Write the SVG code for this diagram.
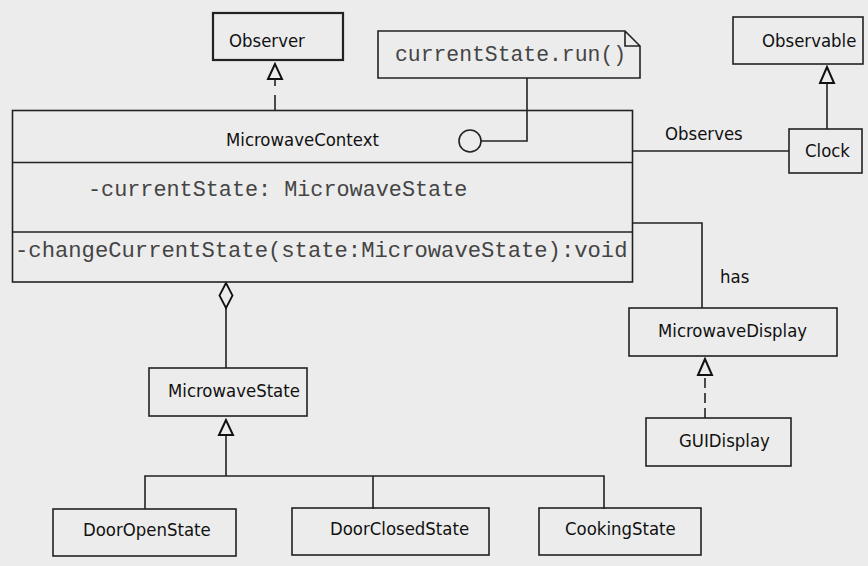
<svg xmlns="http://www.w3.org/2000/svg" width="868" height="566" viewBox="0 0 868 566">
<style>
.box{fill:none;stroke:#222;stroke-width:1.6}
.thick{stroke-width:2.2}
.ln{fill:none;stroke:#222;stroke-width:1.6}
.tri{fill:#ececec;stroke:#111;stroke-width:2}
.t{font-family:"DejaVu Sans Condensed","DejaVu Sans",sans-serif;font-stretch:condensed;font-size:18.4px;fill:#111}
.m{font-family:"Liberation Mono","Courier New",monospace;font-size:21.8px;fill:#444}
</style>
<rect x="0" y="0" width="868" height="566" fill="#ececec"/>
<g id="connectors">
  <path class="ln" d="M275,110 V79" stroke-dasharray="15,9"/>
  <polygon class="tri" points="275,64 268,79 282,79"/>
  <path class="ln" d="M827,129 V83"/>
  <polygon class="tri" points="827,67 820,83 834,83"/>
  <path class="ln" d="M632,151 H789"/>
  <text class="t" x="665" y="140">Observes</text>
  <path class="ln" d="M632,223 H702 V308"/>
  <text class="t" x="720" y="283">has</text>
  <path class="ln" d="M705,418 V375" stroke-dasharray="10,5"/>
  <polygon class="tri" points="705,359 698,375 712,375"/>
  <path class="ln" d="M226,308 V368"/>
  <polygon class="tri" points="226,283 219.5,295.5 226,308 232.5,295.5" style="stroke-width:1.8"/>
  <path class="ln" d="M226,435 V476 M145,509 V476 H604 V509 M373,476 V509"/>
  <polygon class="tri" points="226,420 219,435 233,435"/>
  <path class="ln" d="M481,141 H527 V78"/>
  <circle cx="470" cy="141" r="11" class="ln" style="fill:#ececec"/>
</g>
<g id="Observer">
  <rect class="box thick" x="213" y="13" width="130" height="47"/>
  <text class="t" x="229" y="46.5">Observer</text>
</g>
<g id="Note">
  <path class="box" d="M378,31 H625 L640,46 V78 H378 Z M625,31 V46 H640"/>
  <text class="m" x="395" y="61" style="font-size:21.4px">currentState.run()</text>
</g>
<g id="Observable">
  <rect class="box" x="733" y="17" width="130" height="47"/>
  <text class="t" x="762" y="47">Observable</text>
</g>
<g id="Clock">
  <rect class="box" x="789" y="129" width="73" height="44"/>
  <text class="t" x="805" y="157">Clock</text>
</g>
<g id="MicrowaveContext">
  <rect class="box" x="12.5" y="110.5" width="620" height="171.5"/>
  <path class="ln" d="M12.5,162.5 H632.5 M12.5,232 H632.5"/>
  <text class="t" x="226" y="146">MicrowaveContext</text>
  <text class="m" x="88" y="196">-currentState: MicrowaveState</text>
  <text class="m" x="15" y="257" style="font-size:22.2px">-changeCurrentState(state:MicrowaveState):void</text>
</g>
<g id="MicrowaveDisplay">
  <rect class="box" x="629" y="308" width="208" height="48"/>
  <text class="t" x="658" y="337">MicrowaveDisplay</text>
</g>
<g id="GUIDisplay">
  <rect class="box" x="646" y="418" width="145" height="48"/>
  <text class="t" x="679" y="447">GUIDisplay</text>
</g>
<g id="MicrowaveState">
  <rect class="box" x="149" y="368" width="158" height="48"/>
  <text class="t" x="168" y="397">MicrowaveState</text>
</g>
<g id="DoorOpenState">
  <rect class="box" x="53" y="509" width="183" height="47"/>
  <text class="t" x="83" y="536">DoorOpenState</text>
</g>
<g id="DoorClosedState">
  <rect class="box" x="292" y="508" width="197" height="47"/>
  <text class="t" x="330" y="535">DoorClosedState</text>
</g>
<g id="CookingState">
  <rect class="box" x="539" y="508" width="162" height="47"/>
  <text class="t" x="565" y="535">CookingState</text>
</g>
</svg>
